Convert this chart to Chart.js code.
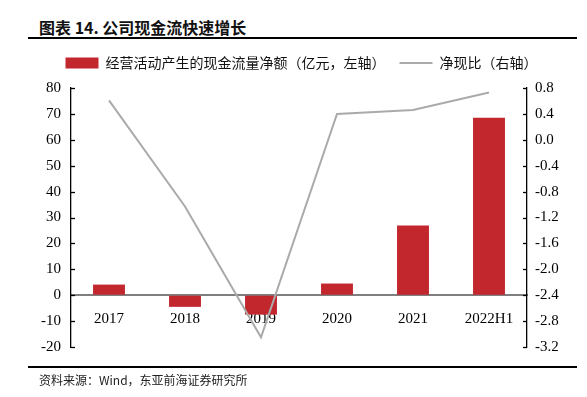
<!DOCTYPE html>
<html>
<head>
<meta charset="utf-8">
<script src="https://cdn.jsdelivr.net/npm/chart.js@4.4.0/dist/chart.umd.min.js"></script>
<style>
html, body { margin: 0; padding: 0; background: #fff; }
#wrap { position: relative; width: 587px; height: 397px; overflow: hidden; }
#title { position: absolute; left: 39px; top: 17px; font: bold 16px "Noto Sans CJK SC"; line-height: 20px; color: #111; white-space: nowrap; }
.rule { position: absolute; left: 28px; width: 549px; height: 2px; background: #000; }
#source { position: absolute; left: 39px; top: 372px; font: 12px "Noto Sans CJK SC"; line-height: 16px; color: #222; white-space: nowrap; }
canvas { position: absolute; left: 0; top: 0; }
</style>
</head>
<body>
<div id="wrap">
  <div id="title">图表 14. 公司现金流快速增长</div>
  <div class="rule" style="top:37px"></div>
  <canvas id="cashChart" width="587" height="397"></canvas>
  <div class="rule" style="top:366px"></div>
  <div id="source">资料来源：Wind，东亚前海证券研究所</div>
</div>
<script>
const categories = ['2017', '2018', '2019', '2020', '2021', '2022H1'];
const cashFlow = [4.1, -4.5, -7.5, 4.5, 26.9, 68.5];     // 亿元, left axis
const cashRatio = [0.61, -1.03, -3.05, 0.40, 0.46, 0.73]; // right axis
const leftTicks = [-20, -10, 0, 10, 20, 30, 40, 50, 60, 70, 80];
const rightTicks = [-3.2, -2.8, -2.4, -2.0, -1.6, -1.2, -0.8, -0.4, 0.0, 0.4, 0.8];

const serif = 'Liberation Serif';

// short tick marks drawn on the inside of both value axes
const innerTicks = {
    id: 'innerTicks',
    afterDraw(chart) {
        const ctx = chart.ctx;
        ctx.save();
        ctx.strokeStyle = '#000';
        ctx.lineWidth = 1.3;
        [['y', 1], ['y1', -1]].forEach(([id, dir]) => {
            const s = chart.scales[id];
            const x = dir > 0 ? s.right : s.left;
            s.ticks.forEach(t => {
                const yp = Math.round(s.getPixelForValue(t.value)) + 0.5;
                ctx.beginPath();
                ctx.moveTo(x, yp);
                ctx.lineTo(x + dir * 4, yp);
                ctx.stroke();
            });
        });
        ctx.restore();
    }
};

const ctx = document.getElementById('cashChart');

new Chart(ctx, {
    data: {
        labels: categories,
        datasets: [{
            type: 'bar',
            label: '经营活动产生的现金流量净额（亿元，左轴）',
            data: cashFlow,
            backgroundColor: 'rgb(194, 39, 46)',
            borderWidth: 0,
            barPercentage: 0.42,
            categoryPercentage: 1,
            pointStyle: 'rect',
            xAxisID: 'x',
            yAxisID: 'y',
            order: 2
        }, {
            type: 'line',
            label: '净现比（右轴）',
            data: cashRatio,
            borderColor: 'rgb(170, 170, 170)',
            borderWidth: 2,
            pointRadius: 0,
            pointStyle: 'line',
            tension: 0,
            xAxisID: 'x',
            yAxisID: 'y1',
            order: 1
        }]
    },
    options: {
        responsive: false,
        animation: false,
        layout: { padding: { top: 42, left: 16, right: 0, bottom: 50 } },
        plugins: {
            tooltip: { enabled: false },
            legend: {
                position: 'top',
                labels: {
                    usePointStyle: true,
                    pointStyleWidth: 33,
                    boxHeight: 11,
                    padding: 14,
                    color: '#111',
                    font: { family: 'Noto Sans CJK SC', size: 14 },
                    sort: (a, b) => a.datasetIndex - b.datasetIndex
                }
            }
        },
        scales: {
            x: {
                type: 'category',
                position: { y: 0 },
                z: 1,
                grid: { display: false },
                border: { color: '#7f7f7f', width: 2 },
                ticks: { color: '#000', padding: 7, font: { family: serif, size: 15 } }
            },
            xSpacer: {
                type: 'category',
                position: 'top',
                grid: { display: false },
                border: { display: false },
                ticks: { display: false },
                afterFit(s) { s.height = 8; }
            },
            y: {
                position: 'left',
                min: leftTicks[0],
                max: leftTicks[leftTicks.length - 1],
                grid: { drawOnChartArea: false, drawTicks: false },
                border: { color: '#000', width: 1.3 },
                ticks: {
                    stepSize: leftTicks[1] - leftTicks[0],
                    padding: 10,
                    color: '#000',
                    font: { family: serif, size: 15 }
                },
                afterFit(s) { s.width = 55; }
            },
            y1: {
                position: 'right',
                min: rightTicks[0],
                max: rightTicks[rightTicks.length - 1],
                grid: { drawOnChartArea: false, drawTicks: false },
                border: { color: '#000', width: 1.3 },
                ticks: {
                    stepSize: 0.4,
                    padding: 8,
                    color: '#000',
                    font: { family: serif, size: 15 },
                    callback: v => (Math.abs(v) < 1e-9 ? 0 : v).toFixed(1)
                },
                afterFit(s) { s.width = 60; }
            }
        }
    },
    plugins: [innerTicks]
});
</script>
</body>
</html>
